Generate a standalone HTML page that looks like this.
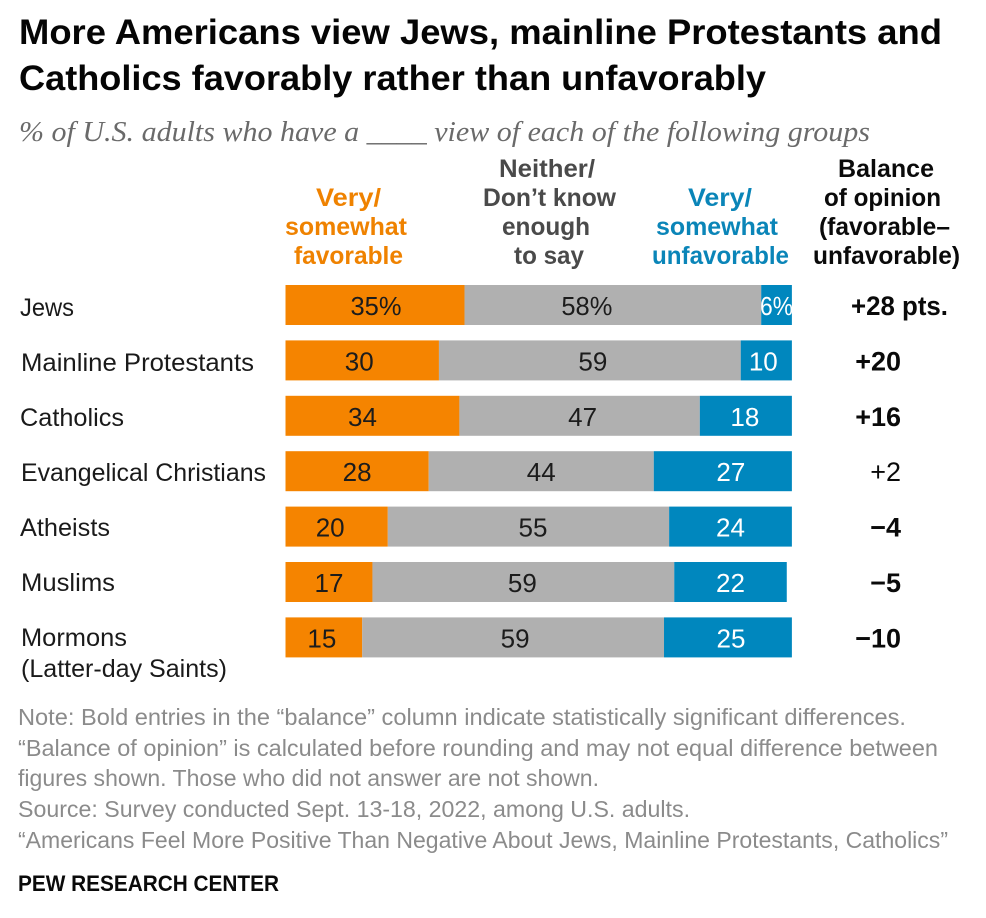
<!DOCTYPE html>
<html lang="en">
<head>
<meta charset="utf-8">
<title>More Americans view Jews, mainline Protestants and Catholics favorably</title>
<style>
html,body{margin:0;padding:0;background:#fff;width:986px;height:918px;overflow:hidden}
svg{display:block}
text{font-family:"Liberation Sans",sans-serif}
.title{font-size:35px;font-weight:700;fill:#050505}
.sub{font-family:"Liberation Serif",serif;font-style:italic;font-size:28px;fill:#6a6a6a}
.hd{font-size:25px;font-weight:700}
.fav{fill:#ef8200}.nei{fill:#4a4a4a}.unf{fill:#0a85b8}.bal{fill:#0a0a0a}
.row{font-size:25px;fill:#1a1a1a}
.note{font-size:23px;fill:#8b8b8b}
.pew{font-size:22px;font-weight:700;fill:#0a0a0a}
</style>
</head>
<body>
<svg id="chart" xmlns="http://www.w3.org/2000/svg" width="986" height="918" viewBox="0 0 986 918">
<rect width="986" height="918" fill="#fff"/>
<text class="title" x="19" y="44" textLength="923" lengthAdjust="spacingAndGlyphs">More Americans view Jews, mainline Protestants and</text>
<text class="title" x="19" y="90" textLength="747" lengthAdjust="spacingAndGlyphs">Catholics favorably rather than unfavorably</text>
<text class="sub" x="19" y="141" textLength="851" lengthAdjust="spacingAndGlyphs">% of U.S. adults who have a ____ view of each of the following groups</text>

<g class="hd fav">
<text x="316" y="206" textLength="65" lengthAdjust="spacingAndGlyphs">Very/</text>
<text x="285" y="235" textLength="122" lengthAdjust="spacingAndGlyphs">somewhat</text>
<text x="294" y="264" textLength="109" lengthAdjust="spacingAndGlyphs">favorable</text>
</g>
<g class="hd nei">
<text x="499" y="177" textLength="96" lengthAdjust="spacingAndGlyphs">Neither/</text>
<text x="483" y="206" textLength="133" lengthAdjust="spacingAndGlyphs">Don’t know</text>
<text x="502" y="235" textLength="88" lengthAdjust="spacingAndGlyphs">enough</text>
<text x="514" y="264" textLength="70" lengthAdjust="spacingAndGlyphs">to say</text>
</g>
<g class="hd unf">
<text x="688" y="206" textLength="64" lengthAdjust="spacingAndGlyphs">Very/</text>
<text x="656" y="235" textLength="122" lengthAdjust="spacingAndGlyphs">somewhat</text>
<text x="652" y="264" textLength="137" lengthAdjust="spacingAndGlyphs">unfavorable</text>
</g>
<g class="hd bal">
<text x="838" y="177" textLength="96" lengthAdjust="spacingAndGlyphs">Balance</text>
<text x="824" y="206" textLength="117" lengthAdjust="spacingAndGlyphs">of opinion</text>
<text x="819" y="235" textLength="131" lengthAdjust="spacingAndGlyphs">(favorable–</text>
<text x="813" y="264" textLength="147" lengthAdjust="spacingAndGlyphs">unfavorable)</text>
</g>

<g class="row">
<text x="20" y="316" textLength="54" lengthAdjust="spacingAndGlyphs">Jews</text>
<text x="21" y="371" textLength="233" lengthAdjust="spacingAndGlyphs">Mainline Protestants</text>
<text x="20" y="426" textLength="104" lengthAdjust="spacingAndGlyphs">Catholics</text>
<text x="21" y="481" textLength="245" lengthAdjust="spacingAndGlyphs">Evangelical Christians</text>
<text x="20" y="536" textLength="90" lengthAdjust="spacingAndGlyphs">Atheists</text>
<text x="21" y="591" textLength="94" lengthAdjust="spacingAndGlyphs">Muslims</text>
<text x="21" y="646" textLength="106" lengthAdjust="spacingAndGlyphs">Mormons</text>
<text x="21" y="677" textLength="206" lengthAdjust="spacingAndGlyphs">(Latter-day Saints)</text>
</g>

<g id="bars"></g>
<g id="balances"></g>

<g class="note">
<text x="18" y="725" textLength="888" lengthAdjust="spacingAndGlyphs">Note: Bold entries in the “balance” column indicate statistically significant differences.</text>
<text x="18" y="756" textLength="920" lengthAdjust="spacingAndGlyphs">“Balance of opinion” is calculated before rounding and may not equal difference between</text>
<text x="18" y="786" textLength="581" lengthAdjust="spacingAndGlyphs">figures shown. Those who did not answer are not shown.</text>
<text x="18" y="817" textLength="672" lengthAdjust="spacingAndGlyphs">Source: Survey conducted Sept. 13-18, 2022, among U.S. adults.</text>
<text x="18" y="848" textLength="930" lengthAdjust="spacingAndGlyphs">“Americans Feel More Positive Than Negative About Jews, Mainline Protestants, Catholics”</text>
</g>
<text class="pew" x="18" y="891" textLength="261" lengthAdjust="spacingAndGlyphs">PEW RESEARCH CENTER</text>
</svg>

<script>
const groups = ["Jews", "Mainline Protestants", "Catholics", "Evangelical Christians", "Atheists", "Muslims", "Mormons"];
const favorable = [35, 30, 34, 28, 20, 17, 15];
const neither = [58, 59, 47, 44, 55, 59, 59];
const unfavorable = [6, 10, 18, 27, 24, 22, 25];
const balanceLabels = ["+28 pts.", "+20", "+16", "+2", "\u22124", "\u22125", "\u221210"];
const balanceBold = [true, true, true, false, true, true, true];

const NS = "http://www.w3.org/2000/svg";
const barsG = document.getElementById("bars");
const balG = document.getElementById("balances");
const x0 = 285.5;
const pxPerPoint = 5.115;
const barH = 40;
const xScale = function (v) { return x0 + v * pxPerPoint; };
const yScale = function (i) { return 285 + i * 55.4; };
const segColors = ["#f58400", "#b0b0b0", "#0087be"];
const textColors = ["#1c1c1c", "#1c1c1c", "#ffffff"];
const segNames = ["favorable", "neither", "unfavorable"];
/* hand-placed label shifts seen in the reference, keyed by row-segment */
const labelShift = {
  "0-0": 1, "0-1": -26,
  "1-0": -3, "1-1": 3, "1-2": -3,
  "2-0": -10, "2-1": 3, "2-2": -1,
  "3-2": 8,
  "4-0": -6.5, "4-1": 4.5,
  "5-1": -1,
  "6-0": -2, "6-1": 2, "6-2": 3
};

groups.forEach(function (g, i) {
  const vals = [favorable[i], neither[i], unfavorable[i]];
  let cum = 0;
  const y = yScale(i);
  vals.forEach(function (v, s) {
    const xa = xScale(cum);
    const xb = xScale(cum + v);
    const r = document.createElementNS(NS, "rect");
    
    
    r.setAttribute("x", xa);
    r.setAttribute("y", y);
    r.setAttribute("width", xb - xa);
    r.setAttribute("height", barH);
    r.setAttribute("fill", segColors[s]);
    barsG.appendChild(r);

    const t = document.createElementNS(NS, "text");
    
    
    t.setAttribute("x", (xa + xb) / 2 + (labelShift[i + "-" + s] || 0));
    t.setAttribute("y", y + 30);
    t.setAttribute("text-anchor", "middle");
    t.setAttribute("font-size", "26");
    t.setAttribute("fill", textColors[s]);
    t.textContent = v + (i === 0 ? "%" : "");
    if (i === 0) {
      t.setAttribute("textLength", v < 10 ? "33" : "51");
      t.setAttribute("lengthAdjust", "spacingAndGlyphs");
    }
    barsG.appendChild(t);
    cum += v;
  });

  const b = document.createElementNS(NS, "text");
  
  
  b.setAttribute("y", y + 30);
  b.setAttribute("font-size", "27");
  b.setAttribute("fill", "#0a0a0a");
  b.setAttribute("font-weight", balanceBold[i] ? "700" : "400");
  if (balanceLabels[i].length > 4) {
    b.setAttribute("x", 851);
    b.setAttribute("textLength", "97");
    b.setAttribute("lengthAdjust", "spacingAndGlyphs");
  } else {
    b.setAttribute("x", 901);
    b.setAttribute("text-anchor", "end");
  }
  b.textContent = balanceLabels[i];
  balG.appendChild(b);
});
</script>
</body>
</html>
